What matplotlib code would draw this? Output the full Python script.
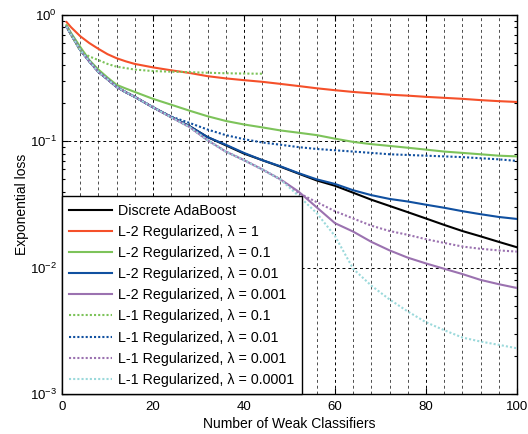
import matplotlib
matplotlib.use("Agg")
import matplotlib.pyplot as plt
from matplotlib.ticker import MultipleLocator, LogLocator

plt.rcParams['font.family'] = ['Liberation Sans', 'DejaVu Sans']
plt.rcParams['mathtext.fontset'] = 'custom'
plt.rcParams['mathtext.rm'] = 'Liberation Sans'
plt.rcParams['mathtext.it'] = 'Liberation Sans:italic'

n_iter = [1, 2, 4, 6, 8, 10, 12, 14, 16, 20, 24, 28, 32, 36, 40, 44, 48, 52, 56, 60,
          64, 68, 72, 76, 80, 84, 88, 92, 96, 100]

discrete_ada = [0.81, 0.70, 0.53, 0.43, 0.355, 0.31, 0.27, 0.245, 0.225, 0.186, 0.156, 0.132,
                0.108, 0.093, 0.080, 0.071, 0.063, 0.0555, 0.049, 0.0445,
                0.0392, 0.0345, 0.0308, 0.0275, 0.0245, 0.0218, 0.0195, 0.0177, 0.016, 0.0145]
l2_1 = [0.88, 0.80, 0.68, 0.60, 0.54, 0.49, 0.455, 0.43, 0.41, 0.385, 0.365, 0.348,
        0.328, 0.315, 0.305, 0.296, 0.285, 0.274, 0.263, 0.254,
        0.246, 0.24, 0.234, 0.23, 0.225, 0.221, 0.217, 0.212, 0.208, 0.205]
l2_01 = [0.83, 0.72, 0.56, 0.44, 0.37, 0.32, 0.28, 0.262, 0.246, 0.217, 0.195, 0.175,
         0.158, 0.145, 0.136, 0.129, 0.122, 0.117, 0.112, 0.105,
         0.099, 0.095, 0.092, 0.089, 0.086, 0.083, 0.081, 0.079, 0.077, 0.076]
l2_001 = [0.81, 0.70, 0.53, 0.43, 0.355, 0.31, 0.27, 0.245, 0.225, 0.186, 0.156, 0.132,
          0.108, 0.094, 0.081, 0.071, 0.0635, 0.056, 0.050, 0.046,
          0.041, 0.0375, 0.035, 0.0334, 0.0315, 0.0298, 0.028, 0.0265, 0.0252, 0.0243]
l2_0001 = [0.81, 0.70, 0.53, 0.43, 0.355, 0.31, 0.27, 0.245, 0.225, 0.186, 0.155, 0.13,
           0.102, 0.083, 0.071, 0.060, 0.050, 0.040, 0.030, 0.0225,
           0.0193, 0.016, 0.0137, 0.012, 0.0108, 0.0098, 0.0089, 0.008, 0.0074, 0.0069]
l1_01 = [0.83, 0.70, 0.52, 0.47, 0.44, 0.41, 0.39, 0.38, 0.37, 0.36, 0.356, 0.353,
         0.349, 0.346, 0.344, 0.343]
l1_001 = [0.81, 0.70, 0.53, 0.43, 0.355, 0.31, 0.27, 0.245, 0.225, 0.186, 0.157, 0.14,
          0.124, 0.112, 0.104, 0.098, 0.094, 0.090, 0.087, 0.085,
          0.083, 0.081, 0.079, 0.078, 0.077, 0.076, 0.075, 0.0735, 0.072, 0.070]
l1_0001 = [0.81, 0.70, 0.53, 0.43, 0.355, 0.31, 0.27, 0.245, 0.225, 0.186, 0.155, 0.13,
           0.102, 0.083, 0.071, 0.060, 0.050, 0.039, 0.033, 0.028,
           0.0245, 0.0215, 0.0195, 0.0182, 0.0168, 0.0157, 0.0147, 0.0141, 0.0137, 0.0134]
l1_00001 = [0.81, 0.70, 0.53, 0.43, 0.355, 0.31, 0.27, 0.245, 0.225, 0.186, 0.155, 0.13,
            0.102, 0.083, 0.071, 0.060, 0.050, 0.037, 0.027, 0.0178,
            0.0098, 0.0072, 0.0056, 0.0045, 0.0037, 0.0032, 0.0028, 0.0026, 0.00245, 0.0023]

labels = ["Discrete AdaBoost",
          "L-2 Regularized, λ = 1",
          "L-2 Regularized, λ = 0.1",
          "L-2 Regularized, λ = 0.01",
          "L-2 Regularized, λ = 0.001",
          "L-1 Regularized, λ = 0.1",
          "L-1 Regularized, λ = 0.01",
          "L-1 Regularized, λ = 0.001",
          "L-1 Regularized, λ = 0.0001"]

colors = ["#000000", "#f5502a", "#7dc35a", "#1050a0", "#9b72b0",
          "#7dc35a", "#1050a0", "#9b72b0", "#9bd9db"]

fig = plt.figure(figsize=(5.28, 4.34), dpi=100)
ax = fig.add_axes([0.1174, 0.0922, 0.8617, 0.8732])

series = [discrete_ada, l2_1, l2_01, l2_001, l2_0001, l1_01, l1_001, l1_0001, l1_00001]
dotted = (0, (1, 1))
for i, (ys, lab, col) in enumerate(zip(series, labels, colors)):
    ls = '-' if i < 5 else dotted
    ax.plot(n_iter[:len(ys)], ys, color=col, lw=1.5, linestyle=ls, label=lab,
            dash_capstyle='butt', zorder=3)

ax.set_yscale('log')
ax.set_xlim(0, 100)
ax.set_ylim(1e-3, 1)
ax.xaxis.set_major_locator(MultipleLocator(20))
ax.xaxis.set_minor_locator(MultipleLocator(4))
ax.yaxis.set_major_locator(LogLocator(base=10, numticks=10))

ax.tick_params(which='both', direction='in', top=True, right=True, labelsize=9.5,
               color='k', width=0.8)
ax.tick_params(which='major', length=4)
ax.tick_params(which='minor', length=2.5)
ax.tick_params(axis='x', which='minor', length=0)
ax.tick_params(axis='x', which='major', pad=5)

ax.grid(True, axis='x', which='major', color='k', linestyle=(0, (3, 3)), lw=0.7)
ax.grid(True, axis='x', which='minor', color='0.3', linestyle=(0, (3, 3)), lw=0.7)
ax.grid(True, axis='y', which='major', color='k', linestyle=(0, (3, 3)), lw=0.7)
ax.set_axisbelow(True)

for sp in ax.spines.values():
    sp.set_linewidth(1.0)

ax.set_xlabel("Number of Weak Classifiers", fontsize=10, labelpad=3)
ax.set_ylabel("Exponential loss", fontsize=10, labelpad=1)

leg = ax.legend(loc='lower left', bbox_to_anchor=(0, 0), borderaxespad=0,
                fontsize=10.3, frameon=True, fancybox=False, framealpha=1,
                edgecolor='k', handlelength=3.0, handletextpad=0.45,
                labelspacing=0.5, borderpad=0.5)
leg.get_frame().set_linewidth(1.0)
leg.set_zorder(5)

fig.savefig("out.png", dpi=100)
